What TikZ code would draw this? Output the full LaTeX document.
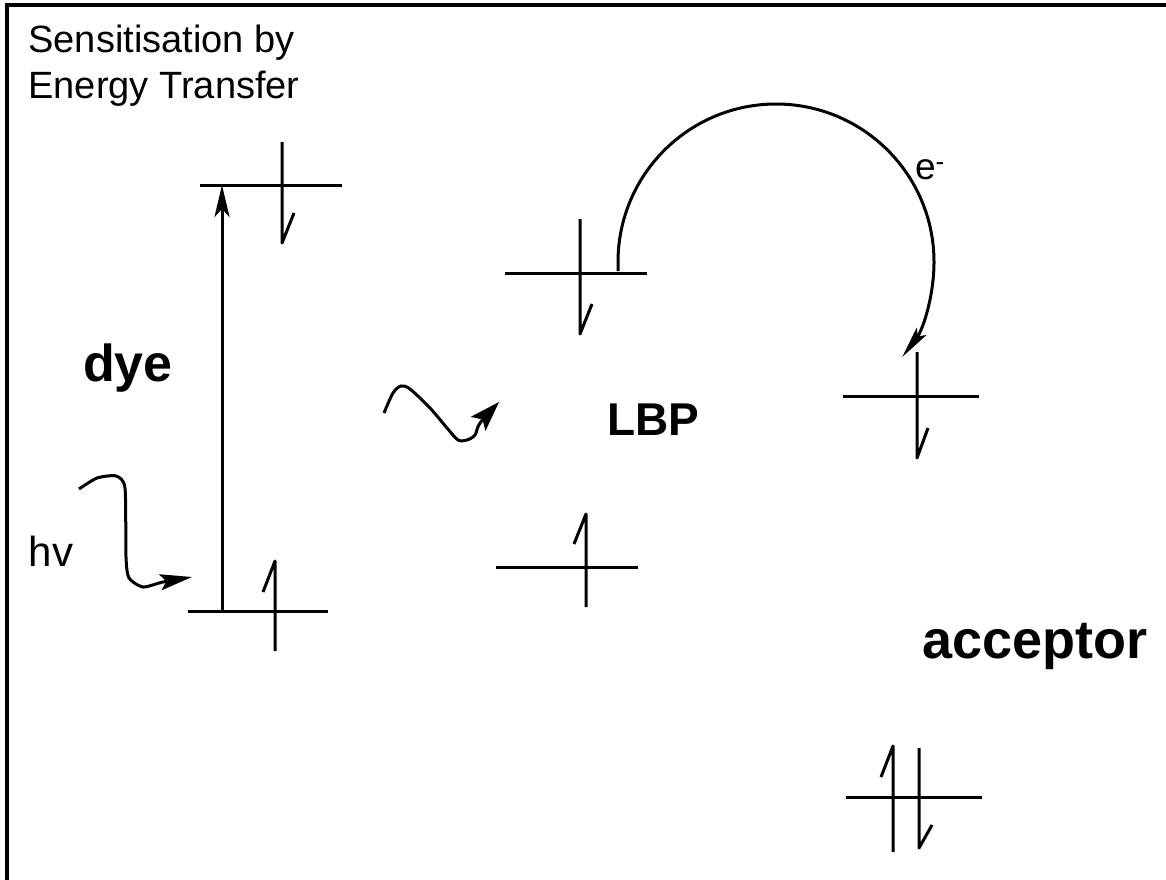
\documentclass[tikz,border=0pt]{standalone}
\usepackage{fontspec}
\setmainfont{Liberation Sans}
\usetikzlibrary{arrows.meta}
\tikzset{
  lvl/.style={line width=3pt},
  spin/.style={line width=3pt,line join=round},
  lbl/.style={font=\fontsize{46}{50}\selectfont\bfseries,inner sep=0pt},
  txt/.style={font=\fontsize{38}{46}\selectfont,inner sep=0pt},
}

\begin{document}
\begin{tikzpicture}[x=1pt,y=1pt,yscale=-1,line width=3pt]
\useasboundingbox (0,0) rectangle (1166,879);
\draw[line width=3.5pt] (1172,5) -- (7,5) -- (7,886);
\node[txt,anchor=north west] (title) at (27,19)
  {\begin{tabular}{@{}l@{}}Sensitisation by\\Energy Transfer\end{tabular}};

\draw[lvl] (188,611) -- (328,611);
\draw[lvl] (200,185) -- (342,185);
\draw[lvl] (505,273) -- (647,273);
\draw[lvl] (496,567) -- (638,567);
\draw[lvl] (843,396) -- (979,396);
\draw[lvl] (846,797) -- (982,797);

\draw[spin] (275,651) -- (275,561) -- (263,592);
\draw[spin] (282,142) -- (282,243) -- (294,213);
\draw[spin] (580,219) -- (580,334) -- (592,304);
\draw[spin] (586,607) -- (586,514) -- (574,544);
\draw[spin] (917,352) -- (917,458) -- (928,428);
\draw[spin] (893,852) -- (893,746) -- (881,777);
\draw[spin] (919,748) -- (919,848) -- (932,825);

\node[lbl,font=\fontsize{52}{56}\selectfont\bfseries] (dye) at (128,368) {dye};
\node[lbl] (lbp) at (653,420) {LBP};
\node[lbl,font=\fontsize{54}{58}\selectfont\bfseries] (acc) at (1035,646) {acceptor};
\node[txt,font=\fontsize{42}{44}\selectfont] (hv) at (51,551) {hv};
\node[txt,font=\fontsize{37}{40}\selectfont] (elec) at (930,170) {e\textsuperscript{-}};

\coordinate (dyeG) at (222,611);
\coordinate (dyeX) at (222,185);
\coordinate (hvS) at (79,489);
\coordinate (hvT) at (192,577);
\coordinate (etS) at (384,413);
\coordinate (etT) at (499,402);
\coordinate (elS) at (618,271);

\draw[-{Stealth[length=32pt,width=15pt,inset=8pt]}] (dyeG) -- (dyeX);
\draw[-{Stealth[length=32pt,width=16pt,inset=6pt]}] plot[smooth,tension=0.4] coordinates
  {(hvS) (97,478) (116,476) (125,488) (126,557) (129,578) (143,587) (163,582) (hvT)};
\draw[-{Stealth[length=30pt,width=20pt,inset=6pt]}] plot[smooth,tension=0.5] coordinates
  {(etS) (393,393) (401,386) (410,389) (430,408) (447,428) (458,440) (467,440) (475,435) (480,423) (etT)};
\draw[-{Stealth[length=32pt,width=12pt,inset=6pt]}] (elS) -- (618,262) arc[start angle=180,end angle=397,radius=158];
\end{tikzpicture}
\end{document}
